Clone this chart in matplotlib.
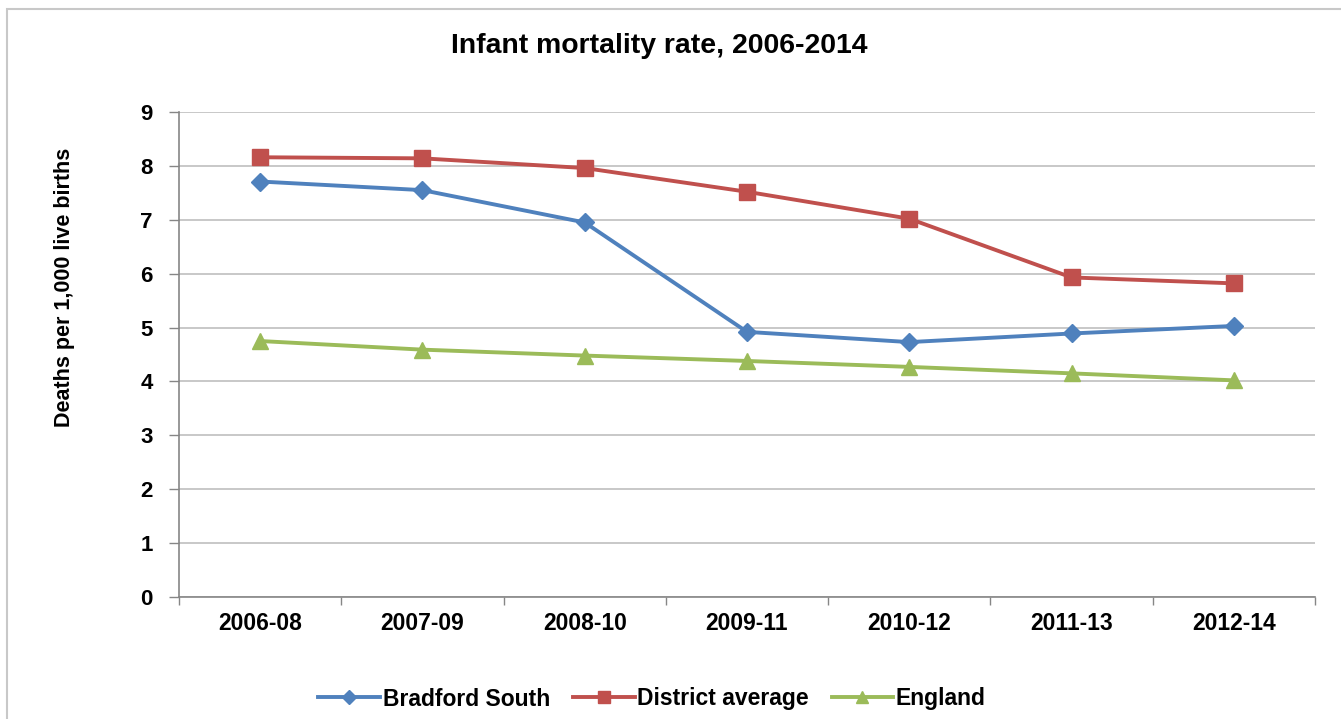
import matplotlib
matplotlib.use("Agg")
import matplotlib.pyplot as plt
from matplotlib.patches import Rectangle
import numpy as np

plt.rcParams['font.family'] = ['Liberation Sans', 'DejaVu Sans']

periods = ["2006-08", "2007-09", "2008-10", "2009-11", "2010-12", "2011-13", "2012-14"]
bradford_south = [7.71, 7.55, 6.95, 4.92, 4.73, 4.89, 5.03]
district_average = [8.16, 8.14, 7.96, 7.52, 7.02, 5.93, 5.82]
england = [4.75, 4.59, 4.48, 4.38, 4.27, 4.15, 4.02]
yticks = list(range(0, 10))

fig = plt.figure(figsize=(13.41, 7.19), dpi=100)
fig.patch.set_facecolor("white")
# outer chart border
fig.patches.append(Rectangle((7/1341, -0.05), 1.2, (719-9)/719 + 0.05,
                             transform=fig.transFigure, fill=False,
                             edgecolor="#C8C8C8", linewidth=1.5))

ax = fig.add_axes([179/1341, 122/719, (1315-179)/1341, (597-112)/719])
x = np.arange(len(periods))

ax.plot(x, bradford_south, color="#4F81BD", lw=2.8, marker="D", markersize=9,
        label="Bradford South", solid_joinstyle="round")
ax.plot(x, district_average, color="#C0504D", lw=2.8, marker="s", markersize=11,
        label="District average")
ax.plot(x, england, color="#9BBB59", lw=2.8, marker="^", markersize=11.5,
        label="England")

ax.set_xlim(-0.5, len(periods) - 0.5)
ax.set_ylim(0, 9)
ax.set_yticks(yticks)
ax.set_yticklabels([str(v) for v in yticks], fontsize=16, fontweight="bold")
ax.set_xticks(x)
ax.set_xticklabels(periods, fontsize=16.5, fontweight="bold")
ax.set_xticks(np.arange(-0.5, len(periods)), minor=True)
ax.tick_params(axis="x", which="major", length=0, pad=11)
ax.tick_params(axis="x", which="minor", length=6, color="#868686", width=1)
ax.tick_params(axis="y", length=7, color="#868686", width=1, pad=12)

ax.grid(axis="y", color="#BFBFBF", lw=1.2)
ax.set_axisbelow(True)
for s in ["top", "right"]:
    ax.spines[s].set_visible(False)
for s in ["left", "bottom"]:
    ax.spines[s].set_color("#868686")
    ax.spines[s].set_linewidth(1.2)

ax.set_ylabel("Deaths per 1,000 live births", fontsize=15.5, fontweight="bold",
              va="center", ha="center")
ax.yaxis.set_label_coords((65 - 179) / 1136, (597 - 287.5) / 485)
fig.text(659/1341, 1 - 46/719, "Infant mortality rate, 2006-2014", ha="center", va="center",
         fontsize=20.4, fontweight="bold")

leg = fig.legend(loc="center", bbox_to_anchor=(652/1341, 1 - 699/719), ncol=3, frameon=False,
                 prop={"size": 16.5, "weight": "bold"}, handlelength=2.7, handletextpad=0.1,
                 columnspacing=1.0, markerscale=0.75)

fig.savefig("out.png", dpi=100)
